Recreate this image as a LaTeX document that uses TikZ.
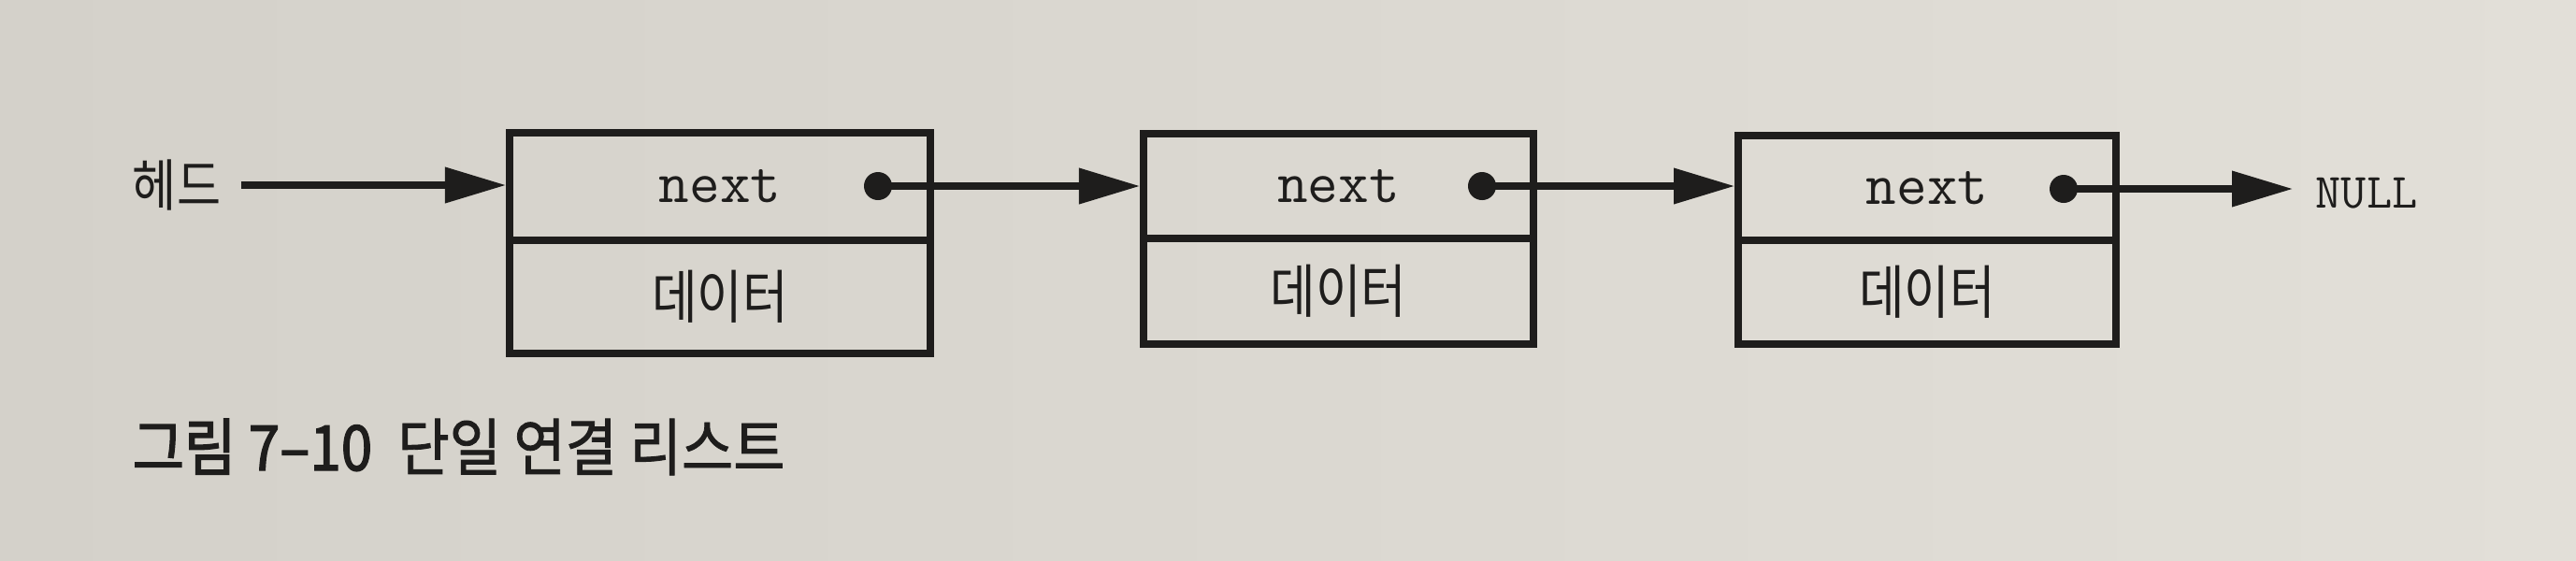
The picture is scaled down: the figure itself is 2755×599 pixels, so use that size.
\documentclass[tikz,border=0pt]{standalone}
\usepackage{graphicx}
\usepackage{fontspec}
\newfontfamily\kr{Noto Sans CJK KR}
\newfontfamily\krheavy[FakeBold=2.2]{Noto Sans CJK KR}
\newfontfamily\krmed[FakeBold=1.3]{Noto Sans CJK KR}
\usetikzlibrary{arrows.meta}
\definecolor{paper}{RGB}{226,223,216}
\definecolor{paperdark}{RGB}{212,209,202}
\definecolor{ink}{RGB}{30,29,28}
\newcommand{\tallkr}[1]{\scalebox{0.97}[1.14]{#1}}
\begin{document}
\begin{tikzpicture}[x=0.01cm,y=-0.01cm,
  nextcell/.style={draw=ink,line width=2.2pt,text=ink,inner sep=0pt,
    font=\ttfamily\fontsize{18pt}{21pt}\selectfont},
  datacell/.style={draw=ink,line width=2.2pt,text=ink,inner sep=0pt,
    font=\kr\fontsize{15.5pt}{18pt}\selectfont},
  ptr/.style={circle,fill=ink,inner sep=0pt,minimum size=0.3cm},
  link/.style={draw=ink,line width=2pt,-{Triangle[length=6.5mm,width=3.7mm]}},
  lbl/.style={text=ink,inner sep=0pt}]
\useasboundingbox (0,0) rectangle (2755,599);
\shade[left color=paperdark,right color=paper] (0,0) rectangle (2755,599);
% boxes
\node[nextcell,minimum width=4.5cm,minimum height=1.15cm] (n1) at (770,199.5) {next};
\node[datacell,minimum width=4.5cm,minimum height=1.21cm] (d1) at (770,317.5) {\tallkr{데이터}};
\node[nextcell,minimum width=4.17cm,minimum height=1.12cm] (n2) at (1431.5,199) {next};
\node[datacell,minimum width=4.17cm,minimum height=1.13cm] (d2) at (1431.5,311.5) {\tallkr{데이터}};
\node[nextcell,minimum width=4.04cm,minimum height=1.12cm] (n3) at (2061,201) {next};
\node[datacell,minimum width=4.04cm,minimum height=1.11cm] (d3) at (2061,312.5) {\tallkr{데이터}};
% pointers
\node[ptr] (p1) at (939,199) {};
\node[ptr] (p2) at (1585,199) {};
\node[ptr] (p3) at (2207,202) {};
% head
\node[lbl,font=\kr\fontsize{15pt}{18pt}\selectfont] (head) at (189,198) {\tallkr{헤드}};
\coordinate (hs) at (258,198);
\draw[link] (hs) -- (hs -| n1.west);
\draw[link] (p1.center) -- (p1.center -| n2.west);
\draw[link] (p2.center) -- (p2.center -| n3.west);
\node[lbl,anchor=west,font=\ttfamily\fontsize{15pt}{18pt}\selectfont] (null) at (2476,207) {NULL};
\coordinate (nulltip) at (2452,202);
\draw[link] (p3.center) -- (nulltip);
% caption
\node[lbl,anchor=west,font=\fontsize{19pt}{22pt}\selectfont] (cap) at (141,478)
  {\scalebox{0.9}[1]{{\krheavy 그림 7–10}\hspace{0.15em} {\krmed 단일 연결 리스트}}};
\end{tikzpicture}
\end{document}
